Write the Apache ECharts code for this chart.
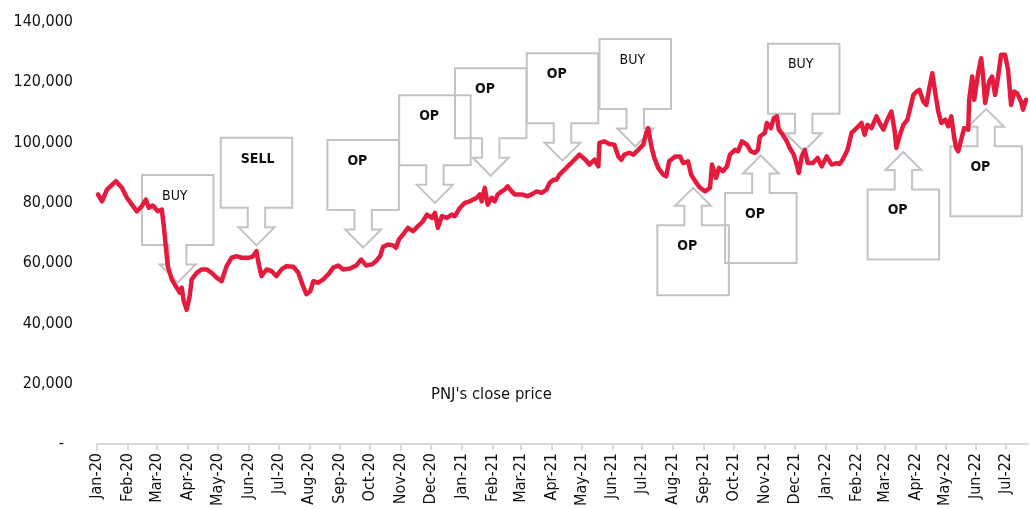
<!DOCTYPE html>
<html>
<head>
<meta charset="utf-8">
<title>PNJ close price</title>
<script src="https://cdn.jsdelivr.net/npm/echarts@6/dist/echarts.min.js"></script>
<style>
  html, body { margin: 0; padding: 0; background: #fff; }
  #chart { width: 1030px; height: 509px; }
</style>
</head>
<body>
<div id="chart"></div>
<script>
// PNJ close price (VND)
var priceDates = [
  '2020-01-02','2020-01-06','2020-01-11','2020-01-20','2020-01-26','2020-01-31','2020-02-05','2020-02-10','2020-02-15','2020-02-19',
  '2020-02-22','2020-02-26','2020-03-02','2020-03-06','2020-03-08','2020-03-10','2020-03-12','2020-03-16','2020-03-20','2020-03-24',
  '2020-03-26','2020-03-28','2020-03-31','2020-04-03','2020-04-05','2020-04-10','2020-04-15','2020-04-20','2020-04-25','2020-04-30',
  '2020-05-05','2020-05-10','2020-05-15','2020-05-20','2020-05-25','2020-06-01','2020-06-05','2020-06-09','2020-06-11','2020-06-14',
  '2020-06-19','2020-06-24','2020-06-29','2020-07-04','2020-07-09','2020-07-16','2020-07-21','2020-07-25','2020-07-29','2020-08-02',
  '2020-08-05','2020-08-10','2020-08-15','2020-08-20','2020-08-25','2020-08-30','2020-09-04','2020-09-11','2020-09-17','2020-09-22',
  '2020-09-27','2020-10-03','2020-10-07','2020-10-11','2020-10-14','2020-10-19','2020-10-24','2020-10-27','2020-10-30','2020-11-03',
  '2020-11-08','2020-11-13','2020-11-18','2020-11-23','2020-11-27','2020-12-02','2020-12-05','2020-12-08','2020-12-12','2020-12-17',
  '2020-12-22','2020-12-25','2020-12-30','2021-01-04','2021-01-09','2021-01-11','2021-01-16','2021-01-19','2021-01-21','2021-01-24',
  '2021-01-27','2021-01-31','2021-02-03','2021-02-06','2021-02-10','2021-02-13','2021-02-16','2021-02-20','2021-02-23','2021-03-02',
  '2021-03-08','2021-03-12','2021-03-17','2021-03-22','2021-03-27','2021-03-30','2021-04-03','2021-04-06','2021-04-09','2021-04-14',
  '2021-04-19','2021-04-24','2021-04-29','2021-05-05','2021-05-09','2021-05-14','2021-05-18','2021-05-19','2021-05-24','2021-05-29',
  '2021-06-03','2021-06-07','2021-06-10','2021-06-13','2021-06-18','2021-06-22','2021-06-27','2021-07-02','2021-07-05','2021-07-07',
  '2021-07-10','2021-07-13','2021-07-17','2021-07-22','2021-07-25','2021-07-28','2021-08-03','2021-08-08','2021-08-11','2021-08-16',
  '2021-08-19','2021-08-23','2021-08-28','2021-09-02','2021-09-07','2021-09-09','2021-09-13','2021-09-16','2021-09-20','2021-09-24',
  '2021-09-27','2021-10-02','2021-10-05','2021-10-09','2021-10-14','2021-10-18','2021-10-22','2021-10-25','2021-10-27','2021-11-01',
  '2021-11-03','2021-11-07','2021-11-10','2021-11-13','2021-11-15','2021-11-19','2021-11-23','2021-11-26','2021-11-30','2021-12-03',
  '2021-12-05','2021-12-08','2021-12-11','2021-12-14','2021-12-19','2021-12-24','2021-12-28','2022-01-02','2022-01-07','2022-01-12',
  '2022-01-15','2022-01-18','2022-01-23','2022-01-27','2022-02-01','2022-02-06','2022-02-09','2022-02-12','2022-02-16','2022-02-21',
  '2022-02-24','2022-02-28','2022-03-03','2022-03-08','2022-03-11','2022-03-13','2022-03-16','2022-03-20','2022-03-24','2022-03-26',
  '2022-03-30','2022-04-02','2022-04-05','2022-04-09','2022-04-12','2022-04-15','2022-04-18','2022-04-21','2022-04-24','2022-04-27',
  '2022-05-01','2022-05-04','2022-05-07','2022-05-10','2022-05-12','2022-05-14','2022-05-17','2022-05-20','2022-05-24','2022-05-25',
  '2022-05-28','2022-05-30','2022-06-03','2022-06-06','2022-06-08','2022-06-10','2022-06-14','2022-06-17','2022-06-20','2022-06-23',
  '2022-06-26','2022-06-30','2022-07-03','2022-07-06','2022-07-09','2022-07-12','2022-07-16','2022-07-18','2022-07-21'
];
var closePrices = [
  82800,80500,84400,87200,85000,81700,79400,77200,78900,81100,
  78400,79100,77200,77800,72300,65600,59000,54600,52400,50200,
  51900,47400,44500,49100,54600,56800,57900,57900,56800,55200,
  54000,59000,61800,62300,61800,61800,62100,64000,60100,55700,
  57900,57400,55700,57900,59000,58800,56800,53000,49700,50700,
  54000,53500,54600,56300,58500,59200,57900,58200,59200,61200,
  59200,59600,60700,62300,65400,66200,65900,65100,67900,69500,
  71700,70600,72300,73900,76100,75000,76700,71700,75600,75000,
  76100,75600,78300,80000,80500,81100,81700,82800,80500,85000,
  79400,81700,80500,82800,83800,84400,85500,83800,82800,82800,
  82200,82800,83800,83300,84400,86600,87700,87700,89400,91000,
  92700,94300,96000,94300,92700,94300,92100,99900,100400,99500,
  99300,95400,94300,96000,96600,96000,97600,99300,103200,104800,
  99000,95000,91600,89400,88800,93800,95400,95400,93200,93800,
  89400,87200,85000,83800,85000,92700,88300,91600,90500,92100,
  96000,97600,97100,100400,99300,97100,96600,97600,102000,103200,
  106500,104800,108100,108700,104300,102600,100400,98200,96000,92700,
  89900,95400,97600,93200,93200,94900,92100,95400,92700,93200,
  92900,94300,97600,103200,104800,106500,102600,105900,104800,108700,
  106500,104300,107000,110300,104300,98200,102000,105900,107600,108100,
  115800,116900,117500,113600,112500,118100,123000,116400,110300,106500,
  107600,105400,108700,101500,98200,97100,101000,104800,104300,114200,
  121900,114200,123000,128000,121900,113100,120300,121900,115800,121900,
  129100,129100,124100,112500,116900,116400,113600,110900,114200
];

// call-outs: where each arrow points, its text and which way it points
var calloutDates  = ['2020-03-22','2020-06-09','2020-09-24','2020-12-05','2021-01-30','2021-04-12','2021-06-24','2021-08-21','2021-10-28','2021-12-10','2022-03-20','2022-06-11'];
var calloutPrices = [53600, 65900, 65200, 80000, 89000, 94000, 98700, 85000, 95700, 97100, 96900, 111200];
var calloutLabels = ['BUY','SELL','OP','OP','OP','OP','BUY','OP','OP','BUY','OP','OP'];
var calloutDirs   = ['down','down','down','down','down','down','down','up','up','down','up','up'];

var MONTHS = ['Jan','Feb','Mar','Apr','May','Jun','Jul','Aug','Sep','Oct','Nov','Dec'];
var NARROW = "'DejaVu Sans Condensed', 'Liberation Sans Narrow', 'Arial Narrow', sans-serif";

// every calendar day on the x axis, first of month gets a tick
var days = [];
for (var t = Date.UTC(2020, 0, 1); t <= Date.UTC(2022, 6, 23); t += 86400000) {
  days.push(new Date(t).toISOString().slice(0, 10));
}
function isMonthStart(i, v) { return v.slice(8) === '01'; }

function calloutShape(params, api) {
  var p = api.coord([api.value(0), api.value(1)]);
  var tx = p[0], ty = p[1];
  var s = calloutDirs[params.dataIndex] === 'up' ? -1 : 1;
  var hw = 35.75, boxH = 70, stemW = 8.7, headW = 18, headH = 18, stemL = 19.5;
  var yHead = ty - s * headH;
  var yBox = ty - s * (headH + stemL);
  var yFar = yBox - s * boxH;
  var pts = [
    [tx - hw, yFar], [tx + hw, yFar], [tx + hw, yBox], [tx + stemW, yBox],
    [tx + stemW, yHead], [tx + headW, yHead], [tx, ty], [tx - headW, yHead],
    [tx - stemW, yHead], [tx - stemW, yBox], [tx - hw, yBox]
  ];
  var top = Math.min(yFar, yBox);
  var lbl = calloutLabels[params.dataIndex];
  return {
    type: 'group',
    children: [{
      type: 'polygon',
      shape: { points: pts },
      style: { fill: 'none', stroke: '#c3c3c3', lineWidth: 2 }
    }, {
      type: 'text',
      style: {
        text: lbl, x: tx - hw + 20, y: top + 21,
        align: 'left', verticalAlign: 'middle',
        fill: '#111', fontSize: 14, fontFamily: NARROW,
        fontWeight: lbl === 'BUY' ? 'normal' : 'bold'
      }
    }]
  };
}

var chart = echarts.init(document.getElementById('chart'));
chart.setOption({
  animation: false,
  title: {
    text: "PNJ's close price", left: 426, top: 381,
    textStyle: { fontSize: 16.5, fontWeight: 'normal', color: '#111', fontFamily: NARROW }
  },
  grid: { left: 97, right: 2, top: 22, bottom: 64, containLabel: false },
  xAxis: {
    type: 'category', data: days, boundaryGap: false,
    axisLine: { lineStyle: { color: '#d9d9d9', width: 2 } },
    axisTick: { interval: isMonthStart, length: 6, lineStyle: { color: '#d9d9d9', width: 2 } },
    axisLabel: {
      interval: isMonthStart, rotate: 90, margin: 9,
      fontSize: 16, color: '#111', fontFamily: NARROW,
      formatter: function (v) { return MONTHS[+v.slice(5, 7) - 1] + '-' + v.slice(2, 4); }
    },
    splitLine: { show: false }
  },
  yAxis: {
    type: 'value', min: 0, max: 140000, interval: 20000,
    axisLine: { show: false }, axisTick: { show: false }, splitLine: { show: false },
    axisLabel: {
      margin: 24, fontSize: 16, color: '#111', fontFamily: NARROW,
      formatter: function (v) { return v === 0 ? '-  ' : v.toLocaleString('en-US'); }
    }
  },
  series: [{
    type: 'custom', z: 1, silent: true,
    renderItem: calloutShape,
    data: calloutDates.map(function (d, i) { return [d, calloutPrices[i]]; })
  }, {
    name: "PNJ's close price", type: 'line', z: 2,
    showSymbol: false,
    lineStyle: { color: '#e41b3c', width: 4.5, join: 'round', cap: 'round' },
    data: priceDates.map(function (d, i) { return [d, closePrices[i]]; })
  }]
});
</script>
</body>
</html>
